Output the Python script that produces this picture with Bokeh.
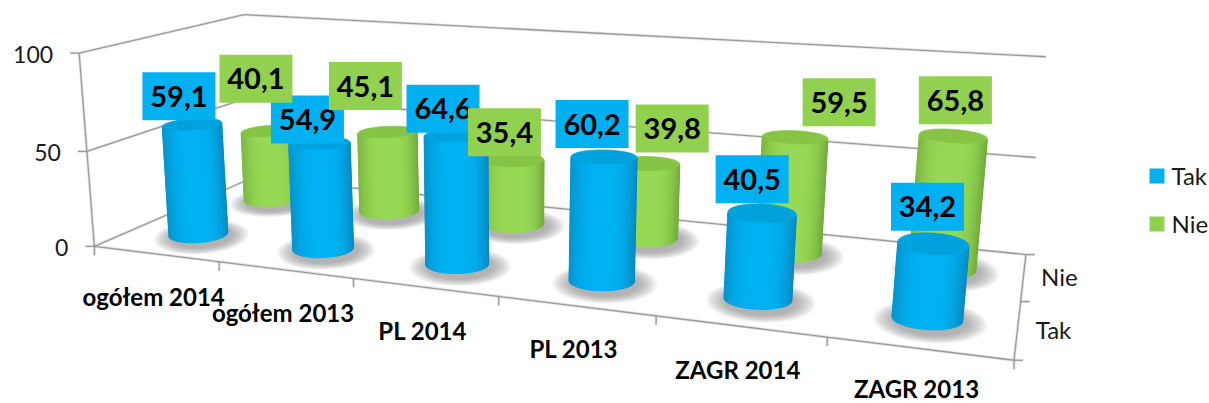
import math
import numpy as np
from bokeh.core.properties import value
from bokeh.embed import file_html
from bokeh.models import ColumnDataSource, Range1d
from bokeh.plotting import figure
from bokeh.resources import INLINE

categories = ["ogółem 2014", "ogółem 2013", "PL 2014", "PL 2013", "ZAGR 2014", "ZAGR 2013"]
series_names = ["Tak", "Nie"]
tak = [59.1, 54.9, 64.6, 60.2, 40.5, 34.2]
nie = [40.1, 45.1, 35.4, 39.8, 59.5, 65.8]
value_ticks = [0, 50, 100]

BLUE, GREEN = "#00B0F0", "#92D050"
# hand-placed data labels: shift of each label from the top of its cylinder
tak_label_shift = [(-13,-28),(-12,-24),(-13,-27),(-12,-33),(-10,-34),(-6,-37)]
nie_label_shift = [(-14,-52),(-22,-46),(-9,-28),(24,-35),(44,-35),(2,-36)]

# camera: a projective map fitted to where the chart's box corners sit on the page
cube = [(0,0,0),(6,0,0),(0,2,0),(6,2,0),(0,0,100),(0,2,100),(6,2,100),(0,0,50),(6,2,50),(3,0,0),(1,0,0),(5,0,0),(6,1,0)]
page = [(95,246),(1014,360),(250,178),(1026,253),(77,52),(245,14),(1045,57),(87,151),(1035,157),(498,296),(219,261),(826,337),(1020,301)]
A, b = [], []
for (u,w,v),(x,y) in zip(cube,page):
    A.append([u,w,v,1,0,0,0,0,-x*u,-x*w,-x*v]); b.append(x)
    A.append([0,0,0,0,u,w,v,1,-y*u,-y*w,-y*v]); b.append(y)
H = np.linalg.lstsq(np.array(A,float),np.array(b,float),rcond=None)[0]
def proj(u,w,v):
    d = H[8]*u+H[9]*w+H[10]*v+1
    return (H[0]*u+H[1]*w+H[2]*v+H[3])/d, (H[4]*u+H[5]*w+H[6]*v+H[7])/d

p = figure(width=1209, height=403, output_backend="svg", toolbar_location=None,
           x_range=Range1d(0,1209), y_range=Range1d(403,0), min_border=0, outline_line_color=None)
p.axis.visible = False
p.grid.visible = False

def seg(a,b,color="#9a9a9a",w=1.3):
    p.line([a[0],b[0]],[a[1],b[1]],line_color=color,line_width=w+1.6,line_alpha=0.25)
    p.line([a[0],b[0]],[a[1],b[1]],line_color=color,line_width=w)

def label(x,y,t,size,bold=False,align="center",color="#000000"):
    p.text([x],[y],text=[t],text_align=align,text_baseline="middle",text_color=color,
           text_font=value("Lato"),text_font_size=size,text_font_style="bold" if bold else "normal")

for t in value_ticks:
    seg(proj(0,0,t),proj(0,2,t))
    seg(proj(0,2,t),proj(6,2,t))
    a = proj(0,0,t); seg((a[0]-9,a[1]),a)
seg(proj(0,0,0),proj(0,0,100))
seg(proj(0,0,0),proj(6,0,0))
seg(proj(6,0,0),proj(6,2,0))
for i in range(7):
    a = proj(i,0,0); seg(a,(a[0],a[1]+9))
for w in range(3):
    a = proj(6,w,0); seg(a,(a[0]+9,a[1]))

def ell(cx,cy,rx,ry,tilt,a0=0,a1=2*math.pi,n=48):
    th = np.linspace(a0,a1,n)
    ex, ey = rx*np.cos(th), ry*np.sin(th)
    return cx+ex*math.cos(tilt)-ey*math.sin(tilt), cy+ex*math.sin(tilt)+ey*math.cos(tilt)

def mix(c1,c2,t):
    a=[int(c1[i:i+2],16) for i in (1,3,5)]; b=[int(c2[i:i+2],16) for i in (1,3,5)]
    return "#%02x%02x%02x"%tuple(round(x+(y-x)*t) for x,y in zip(a,b))

def cylinder(i,row,val,center,edge,cap):
    u, w = i+0.5, row
    bx,by = proj(u,w,0); tx,ty = proj(u,w,val)
    def rad(v):
        l=proj(u-0.5,w,v); r=proj(u+0.5,w,v)
        return 16.7+0.105*(r[0]-l[0])
    rb,rt = rad(0),rad(val)
    ratio = lambda y: min(0.30,0.16+(y-100)*0.001)
    tilt = math.radians(-5+10*u/6)
    # soft floor shadow
    for k in range(9):
        s=1.62-0.07*k
        sx,sy=ell(bx+3,by+3,rb*s,rb*ratio(by)*s*1.25,tilt)
        p.patch(sx,sy,fill_color="#6e6e6e",fill_alpha=0.08,line_color=None)
    N=26
    th=np.linspace(0,math.pi,N+1)
    xs,ys,cs=[],[],[]
    bex,bey=ell(bx,by,rb,rb*ratio(by),tilt,0,math.pi,N+1)
    tex,tey=ell(tx,ty,rt,rt*ratio(ty),tilt,0,math.pi,N+1)
    for k in range(N):
        t=math.cos((th[k]+th[k+1])/2)
        f=abs(t)**3*(1.0 if t>0 else 0.65)
        xs.append([bex[k],bex[k+1],tex[k+1],tex[k]])
        ys.append([bey[k],bey[k+1],tey[k+1],tey[k]])
        cs.append(mix(center,edge,f))
    p.patches("xs","ys",source=ColumnDataSource(dict(xs=xs,ys=ys,c=cs)),fill_color="c",line_color="c",line_width=1.4)
    cx,cy=ell(tx,ty,rt,rt*ratio(ty),tilt)
    p.patch(cx,cy,fill_color=cap,line_color=cap,line_width=0.8)
    return tx,ty

tops_nie=[cylinder(i,1.5,v,"#97D955","#6FA83B","#86C445") for i,v in enumerate(nie)]
tops_tak=[cylinder(i,0.5,v,"#00B2F2","#0A86BC","#00A2DE") for i,v in enumerate(tak)]

def data_labels(vals,tops,shift,color):
    for v,(x,y),(dx,dy) in zip(vals,tops,shift):
        cx,cy=x+dx,y+dy
        p.quad(left=[cx-36.5],right=[cx+36.5],top=[cy-24],bottom=[cy+24],fill_color=color,line_color=None)
        label(cx,cy,f"{v:.1f}".replace(".",","),"29px",True)
data_labels(tak,tops_tak,tak_label_shift,BLUE)
data_labels(nie,tops_nie,nie_label_shift,GREEN)

for t in value_ticks:
    x,y=proj(0,0,t)
    label(x-26,y+1,str(t),"23px",align="right",color="#1a1a1a")
for i,c in enumerate(categories):
    x,y=proj(i+0.5,0,0)
    label(x-2,min(y+43,388),c,"24px",True)
for row,n in zip((0.5,1.5),series_names):
    x,y=proj(6,row,0)
    label(x+36,y,n,"24px",color="#1a1a1a")

legend_x, legend_y = 1149, 168
for k,(n,col) in enumerate(zip(series_names,(BLUE,GREEN))):
    y0=legend_y+48*k
    p.quad(left=[legend_x],right=[legend_x+15],top=[y0],bottom=[y0+15],fill_color=col,line_color=None)
    label(legend_x+22,y0+7,n,"24px",align="left",color="#1a1a1a")

open("out.html","w").write(file_html(p,INLINE))
